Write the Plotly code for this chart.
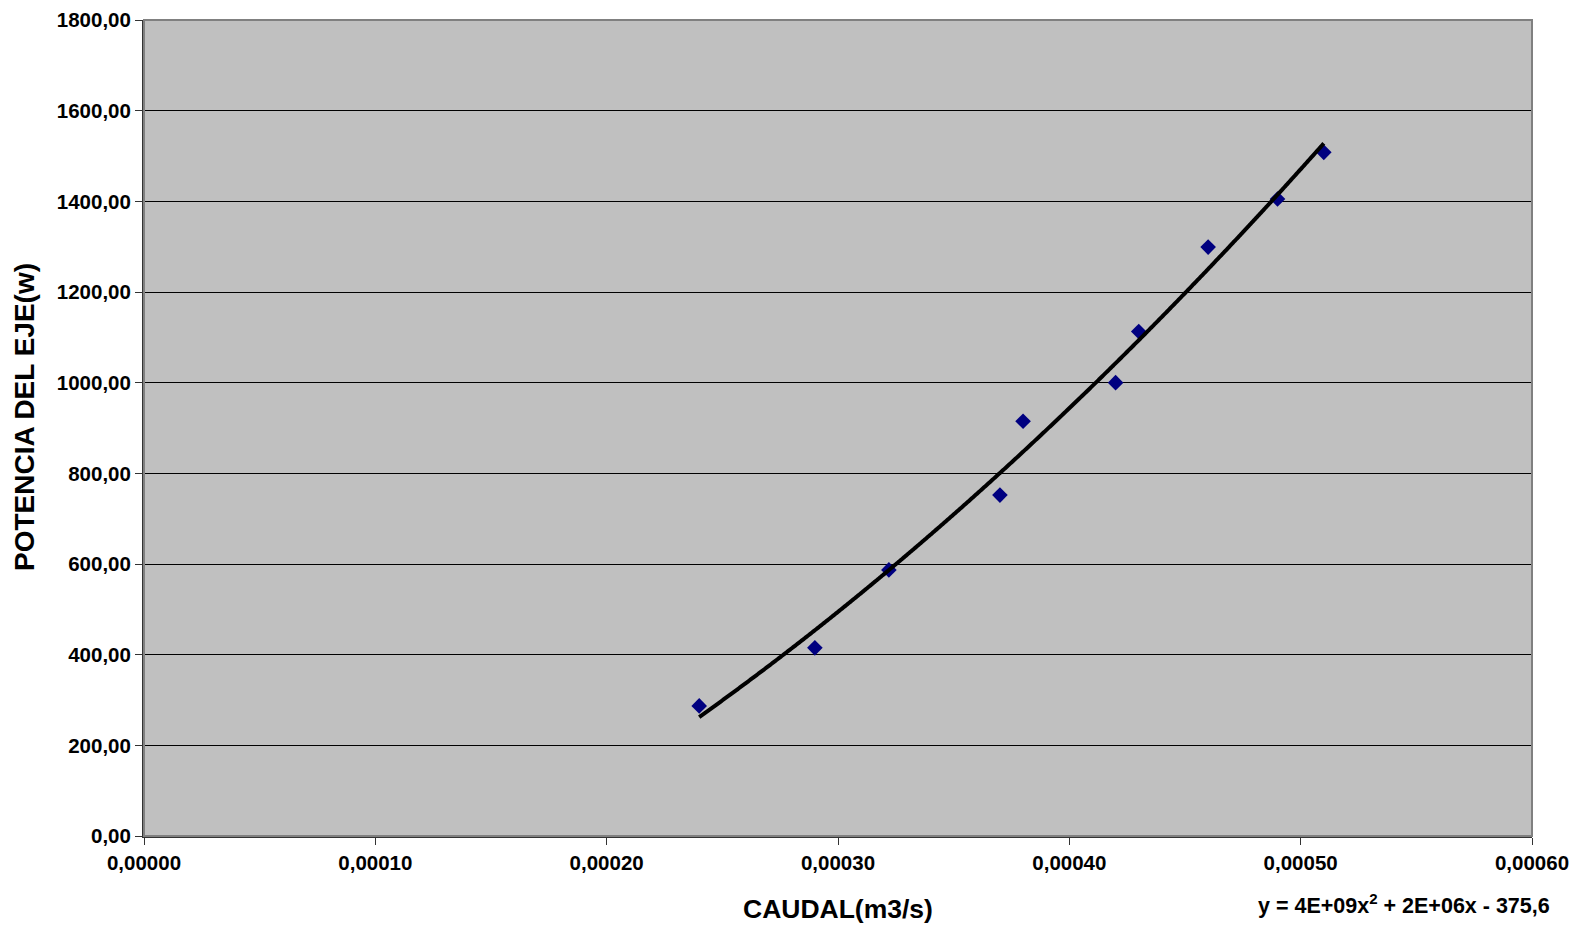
import numpy as np
import plotly.graph_objects as go

# Caudal (m3/s) y potencia del eje (W)
caudal = [0.00024, 0.00029, 0.000322, 0.00037, 0.00038, 0.00042, 0.00043, 0.00046, 0.00049, 0.00051]
potencia = [287, 415, 587, 752, 915, 1000, 1113, 1299, 1405, 1508]

x_ticks = [0.0, 0.0001, 0.0002, 0.0003, 0.0004, 0.0005, 0.0006]
y_ticks = [0, 200, 400, 600, 800, 1000, 1200, 1400, 1600, 1800]

# Línea de tendencia polinómica de grado 2
coef = np.polyfit(caudal, potencia, 2)
xt = np.linspace(min(caudal), max(caudal), 300)
yt = np.polyval(coef, xt)

FONT = "Liberation Sans, Arial, sans-serif"

fig = go.Figure()
fig.add_trace(go.Scatter(
    x=caudal, y=potencia, mode="markers",
    marker=dict(symbol="diamond", size=12, color="#000080", line=dict(width=0)),
    showlegend=False,
))
fig.add_trace(go.Scatter(
    x=xt, y=yt, mode="lines",
    line=dict(color="black", width=4, shape="spline"),
    showlegend=False,
))

fig.update_layout(
    width=1575, height=925,
    margin=dict(l=144, r=43, t=20, b=89),
    paper_bgcolor="white",
    plot_bgcolor="#C0C0C0",
    separators=",.",
    font=dict(family=FONT, size=20, color="black"),
    xaxis=dict(
        range=[0, 0.0006], tickvals=x_ticks, tickformat=".5f",
        showgrid=False, zeroline=False, automargin=False,
        showline=True, linecolor="#333333", linewidth=2,
        ticks="outside", ticklen=7, tickcolor="#333333", tickwidth=1,
        tickfont=dict(family=FONT, size=20.5, color="black", weight="bold"),
    ),
    yaxis=dict(
        range=[0, 1800], tickvals=y_ticks, tickformat=".2f",
        showgrid=True, gridcolor="black", gridwidth=1,
        zeroline=False, automargin=False,
        showline=True, linecolor="#333333", linewidth=2,
        ticks="outside", ticklen=7, tickcolor="#333333", tickwidth=1,
        tickfont=dict(family=FONT, size=20.5, color="black", weight="bold"),
    ),
    shapes=[dict(
        type="rect", xref="paper", yref="paper", x0=0, x1=1, y0=0, y1=1,
        line=dict(color="#808080", width=2), fillcolor="rgba(0,0,0,0)", layer="above",
    )],
    annotations=[
        dict(text="<b>CAUDAL(m3/s)</b>", xref="paper", yref="paper",
             x=0.5, y=-0.089, xanchor="center", yanchor="middle", showarrow=False,
             font=dict(family=FONT, size=26.5, color="black")),
        dict(text="<b>POTENCIA DEL EJE(w)</b>", xref="paper", yref="paper",
             x=-0.086, y=0.513, xanchor="center", yanchor="middle", textangle=-90,
             showarrow=False, font=dict(family=FONT, size=28, color="black")),
        dict(text="<b>y = 4E+09x<sup>2</sup> + 2E+06x - 375,6</b>", xref="paper", yref="paper",
             x=1.0145, y=-0.083, xanchor="right", yanchor="middle", showarrow=False,
             font=dict(family=FONT, size=21.5, color="black")),
    ],
)

fig.write_html("out.html")
